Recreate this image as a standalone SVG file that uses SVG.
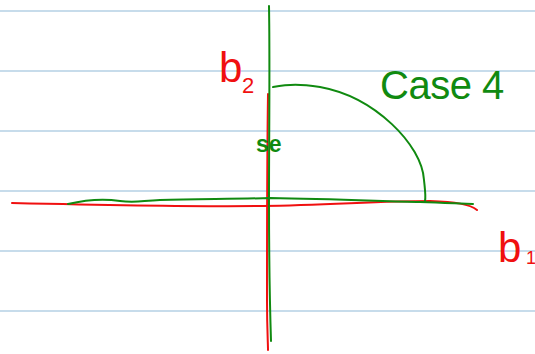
<svg xmlns="http://www.w3.org/2000/svg" width="535" height="354" viewBox="0 0 535 354">
<style>
.rule{stroke:#b4d0e4;stroke-width:1.6}
.g{fill:none;stroke:#108a10;stroke-width:2;stroke-linecap:round;stroke-linejoin:round}
.r{fill:none;stroke:#f01010;stroke-width:2;stroke-linecap:round;stroke-linejoin:round}
.tg{fill:#108a10;font-family:"Liberation Sans",sans-serif}
.tr{fill:#f01010;font-family:"Liberation Sans",sans-serif}
</style>
<rect width="535" height="354" fill="#ffffff"/>
<g id="rules">
<line class="rule" x1="0" y1="11" x2="535" y2="11"/>
<line class="rule" x1="0" y1="71" x2="535" y2="71"/>
<line class="rule" x1="0" y1="131" x2="535" y2="131"/>
<line class="rule" x1="0" y1="191" x2="535" y2="191"/>
<line class="rule" x1="0" y1="251" x2="535" y2="251"/>
<line class="rule" x1="0" y1="311" x2="535" y2="311"/>
</g>
<g id="connectors">
<path class="r" d="M12,203 C100,205 200,207 262,206 C330,205 380,201 430,201 C455,202 470,204 477,210"/>
<path class="r" d="M268,94 C267,160 267,250 267,300 C267,330 268,343 268,350"/>
<path class="g" d="M68,204 C85,200 100,198 120,201 C135,203 140,201 160,200 C200,199 240,199 270,198 C330,199 380,201 420,202 C450,203 465,204 473,204"/>
<path class="g" d="M269,6 C270,60 269,140 269,200 C269,260 270,310 271,341"/>
<path class="g" d="M273,87 C290,84 300,84 320,87 C375,97 422,145 424,180 C425,190 426,196 425,201"/>
</g>
<g id="label-b2">
<text class="tr" x="219" y="82" font-size="42">b</text>
<text class="tr" x="242" y="93" font-size="22">2</text>
</g>
<g id="label-b1">
<text class="tr" x="498" y="262" font-size="42">b</text>
<text class="tr" x="526" y="264" font-size="18">1</text>
</g>
<g id="label-se">
<text class="tg" x="256" y="152" font-size="23" font-weight="bold">se</text>
</g>
<g id="label-case">
<text class="tg" x="380" y="99" font-size="40" letter-spacing="-0.5">Case 4</text>
</g>
</svg>
